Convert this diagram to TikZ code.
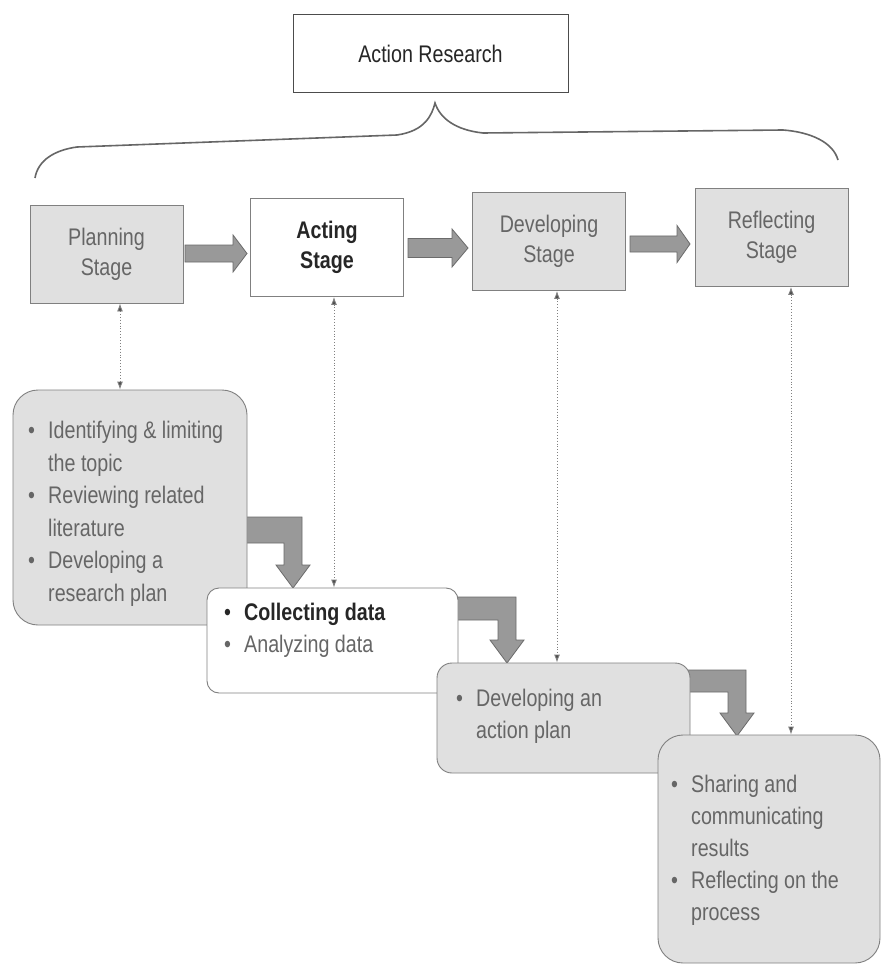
\documentclass[tikz,border=0pt]{standalone}
\usepackage{fontspec}
\setmainfont{Liberation Sans}[FakeStretch=0.82]
\usetikzlibrary{arrows.meta,calc}
\definecolor{boxfill}{gray}{0.88}
\definecolor{boxline}{gray}{0.50}
\definecolor{txt}{gray}{0.40}
\definecolor{dtxt}{gray}{0.15}
\definecolor{arrfill}{gray}{0.60}
\definecolor{arrline}{gray}{0.42}
\newcommand{\bul}{\makebox[20pt][l]{•}}
\newcommand{\ind}{\hspace*{20pt}}
\newcommand{\harrow}[6]{%
  \draw[blockarrow] (#1,#4-#5) -- (#2,#4-#5) -- (#2,#4-#6) -- (#3,#4) -- (#2,#4+#6) -- (#2,#4+#5) -- (#1,#4+#5) -- cycle;}
\newcommand{\bentarrow}[5]{%
  \draw[blockarrow] (#1,#2) -- (#4+9,#2) -- (#4+9,#5-23) -- (#4+17,#5-23) -- (#4,#5) -- (#4-17,#5-23) -- (#4-9,#5-23) -- (#4-9,#2+#3) -- (#1,#2+#3) -- cycle;}
\begin{document}
\begin{tikzpicture}[x=1pt,y=-1pt,
  font=\fontsize{24}{30}\selectfont,
  titlebox/.style={draw=black!70, line width=1pt, fill=white, minimum width=275pt, minimum height=78pt, text=dtxt},
  stagebox/.style={draw=boxline, line width=0.9pt, fill=boxfill, minimum width=153pt, minimum height=98pt, align=center, text=txt, inner sep=0pt},
  listbox/.style={draw=boxline, line width=0.9pt, fill=boxfill},
  listtext/.style={anchor=north west, align=left, inner sep=0pt, text=txt, font=\fontsize{24}{32.6}\selectfont},
  blockarrow/.style={draw=arrline, line width=0.8pt, fill=arrfill},
  dotlink/.style={draw=black!50, line width=0.9pt, dotted, {Latex[length=8pt,width=6pt,fill=black!70]}-{Latex[length=8pt,width=6pt,fill=black!70]}},
  brace/.style={draw=black!60, line width=1.6pt}
]
\fill[white] (0,0) rectangle (882,968);
\useasboundingbox (0,0) rectangle (882,968);

% title and brace
\node[titlebox] (title) at (430.5,54) {Action Research};
\draw[brace] (35,178) .. controls (38,160) and (55,150) .. (77,147) -- (397,135)
  .. controls (425,131) and (432,115) .. (435,103)
  .. controls (440,118) and (455,130) .. (483,133) -- (783,130)
  .. controls (810,132) and (833,142) .. (838,160);

% stage arrows
\harrow{185}{233}{247}{253.5}{8.5}{18.5}
\harrow{408}{452}{468}{248}{9.5}{19}
\harrow{630}{677}{690}{244}{8}{18.5}

% stage boxes
\node[stagebox] (plan) at (106.5,254) {Planning\\Stage};
\node[stagebox, fill=white, text=dtxt, font=\fontsize{24}{30}\selectfont\bfseries] (act) at (327,247.5) {Acting\\Stage};
\node[stagebox] (dev) at (549,241.5) {Developing\\Stage};
\node[stagebox] (refl) at (771.5,237.5) {Reflecting\\Stage};

% bent arrows (under the list boxes)
\bentarrow{240}{517}{26}{293}{588}
\bentarrow{450}{597}{23}{507}{663}
\bentarrow{683}{670}{22}{737}{736}

% list boxes
\node[listbox, rounded corners=25pt, minimum width=234pt, minimum height=235pt] (b1) at (130,507.5) {};
\node[listbox, fill=white, rounded corners=12pt, minimum width=251pt, minimum height=105pt] (b2) at (332.5,640.5) {};
\node[listbox, rounded corners=15pt, minimum width=253pt, minimum height=110pt] (b3) at (563.5,718) {};
\node[listbox, rounded corners=25pt, minimum width=222pt, minimum height=228pt] (b4) at (769,849) {};

\node[listtext] (t1) at (28,421) {\bul Identifying \& limiting\\\ind the topic\\\bul Reviewing related\\\ind literature\\\bul Developing a\\\ind research plan};
\node[listtext, font=\fontsize{24}{32}\selectfont] (t2) at (224,602.5) {\textcolor{dtxt}{\bul\textbf{Collecting data}}\\\bul Analyzing data};
\node[listtext, font=\fontsize{24}{32}\selectfont] (t3) at (456,689) {\bul Developing an\\\ind action plan};
\node[listtext, font=\fontsize{24}{32}\selectfont] (t4) at (671,775) {\bul Sharing and\\\ind communicating\\\ind results\\\bul Reflecting on the\\\ind process};

% dotted links
\coordinate (p1) at ([xshift=13.5pt]plan.south);
\coordinate (p2) at ([xshift=7pt]act.south);
\coordinate (p3) at ([xshift=8pt]dev.south);
\coordinate (p4) at ([xshift=19.5pt]refl.south);
\draw[dotlink] (p1) -- (p1 |- b1.north);
\draw[dotlink] (p2) -- (p2 |- b2.north);
\draw[dotlink] (p3) -- (p3 |- b3.north);
\draw[dotlink] (p4) -- (p4 |- b4.north);
\end{tikzpicture}
\end{document}
